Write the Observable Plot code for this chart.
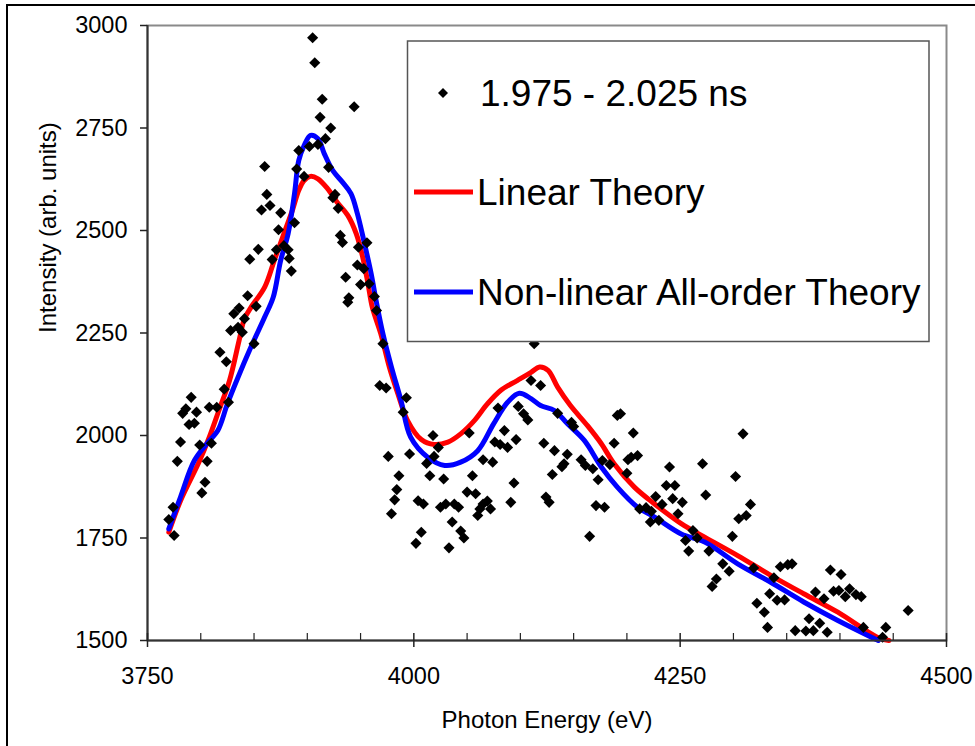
<!DOCTYPE html>
<html>
<head>
<meta charset="utf-8">
<script src="https://cdn.jsdelivr.net/npm/d3@7"></script>
<script src="https://cdn.jsdelivr.net/npm/@observablehq/plot@0.6"></script>
<style>
  html, body { margin: 0; padding: 0; background: #fff; }
  #wrap { position: relative; width: 975px; height: 746px; overflow: hidden; background: #fff;
          font-family: "Liberation Sans", Arial, sans-serif; }
  #chart { position: absolute; left: 0; top: 0; }
  #outer { position: absolute; left: 6px; top: 4px; width: 2000px; height: 2000px;
           border-left: 2px solid #000; border-top: 2px solid #000; pointer-events: none; }
  #legend { position: absolute; left: 0; top: 0; pointer-events: none; }
</style>
</head>
<body>
<div id="wrap">
  <div id="chart"></div>
  <div id="outer"></div>
</div>
<script>
// ---- Data ----
const seriesNames = ["1.975 - 2.025 ns", "Linear Theory", "Non-linear All-order Theory"];
const xTitle = "Photon Energy (eV)";
const yTitle = "Intensity (arb. units)";
const xTicks = [3750, 4000, 4250, 4500];
const xMinorTicks = [3800, 3850, 3900, 3950, 4050, 4100, 4150, 4200, 4300, 4350, 4400, 4450];
const yTicks = [1500, 1750, 2000, 2250, 2500, 2750, 3000];

// measured points: photon energy (eV)
const pointEnergy = [
  3905,3907,3914,3944,3912,3922,3917,3910,3902,3892,3860,3920,3890,3897,3862,3926,3924,3865,3857,3929,
  3875,3888,3873,3931,3933,3956,3948,3854,3878,3871,3882,3846,3867,3883,3947,3953,3885,3936,3950,3958,
  3844,3939,3938,3963,3852,3836,3831,3965,3841,3835,3828,3839,3850,3818,3824,3971,3822,3968,3974,3791,
  3826,3993,3808,3815,3786,3783,3796,3990,3789,3794,3781,3799,3810,3778,3806,3976,3996,3986,3804,3801,
  3984,3982,3774,3770,3979,3775,
  4113,4110,4119,4079,4098,4103,4107,4018,4052,4085,4023,4076,4081,4088,4096,4122,4132,4135,4148,4150,
  4019,4012,4065,4074,4144,4141,4139,4157,4161,4168,4015,4028,4055,4130,4173,4177,4184,4191,4194,4206,
  4188,4201,4204,4210,4200,4094,4050,4058,4004,4009,4025,4030,4038,4042,4065,4069,4072,4062,4060,4091,
  4124,4127,4171,4179,4036,4044,4047,4007,4002,4033,4165,4240,4237,4245,4227,4243,4212,4218,4223,4233,
  4222,4230,4248,
  4309,4271,4302,4252,4274,4316,4312,4305,4262,4266,4255,4258,4299,4277,4290,4296,4284,4280,4319,4338,
  4344,4351,4355,4334,4341,4348,4322,4329,4332,4391,4401,4377,4385,4394,4399,4405,4409,4415,4420,4371,
  4381,4358,4368,4375,4388,4422,4443,4440,4464
];
// measured points: intensity (arb. units)
const pointIntensity = [
  2970,2909,2820,2802,2776,2750,2724,2710,2705,2695,2656,2654,2650,2632,2588,2588,2580,2561,2550,2554,
  2543,2519,2502,2488,2471,2470,2459,2454,2463,2453,2453,2430,2429,2432,2416,2407,2401,2386,2368,2370,
  2341,2336,2325,2339,2315,2311,2297,2305,2285,2264,2256,2252,2224,2203,2180,2224,2113,2122,2116,2093,
  2081,2092,2069,2069,2065,2054,2057,2057,2027,2030,1984,1977,1981,1937,1937,1949,1955,1902,1886,1860,
  1868,1843,1825,1795,1809,1756,
  2224,2134,2122,2067,2071,2053,2038,2000,2006,2012,1971,1984,1978,1971,1990,1981,1963,2054,2032,2022,
  1949,1932,1941,1935,1954,1931,1924,1941,1927,1919,1902,1894,1902,1905,1892,1939,1929,2049,2053,2006,
  1981,1941,1947,1951,1908,1884,1862,1858,1841,1833,1825,1833,1833,1825,1833,1840,1821,1821,1805,1837,
  1850,1837,1829,1825,1789,1767,1750,1764,1737,1726,1754,1923,1878,1878,1851,1846,1821,1824,1815,1832,
  1789,1793,1809,
  2004,1931,1900,1837,1855,1832,1805,1797,1768,1750,1744,1718,1754,1718,1687,1669,1650,1632,1677,1653,
  1680,1685,1687,1614,1598,1599,1591,1569,1532,1672,1661,1618,1602,1620,1622,1607,1626,1612,1607,1553,
  1542,1524,1523,1524,1520,1532,1532,1508,1573
];

// Linear theory curve
const linearEnergy = [
  3770,3781,3799,3808,3817,3827,3836,3841,3847,3860,3869,3878,3886,3892,3897,3903,3910,3919,3928,3938,
  3946,3952,3957,3961,3969,3977,3985,3994,4007,4019,4032,4044,4057,4069,4082,4097,4110,4118,4126,4135,
  4147,4163,4176,4188,4207,4226,4251,4273,4304,4335,4366,4398,4435,4446
];
const linearIntensity = [
  1764,1841,1939,1996,2061,2134,2232,2285,2312,2362,2427,2492,2549,2598,2622,2632,2626,2602,2569,2537,
  2492,2435,2370,2313,2248,2167,2102,2037,1990,1978,1984,2004,2037,2077,2111,2134,2154,2167,2159,2118,
  2073,2024,1980,1931,1874,1833,1785,1752,1707,1659,1614,1569,1508,1500
];

// Non-linear all-order theory curve
const nonlinearEnergy = [
  3770,3781,3794,3807,3816,3825,3835,3847,3860,3868,3875,3882,3888,3892,3897,3903,3910,3916,3924,3933,
  3941,3947,3953,3960,3964,3971,3979,3988,3997,4013,4029,4044,4060,4075,4088,4099,4110,4119,4132,4144,
  4160,4176,4191,4210,4226,4251,4273,4304,4335,4366,4398,4436
];
const nonlinearIntensity = [
  1772,1850,1939,1984,2012,2077,2142,2215,2289,2337,2427,2492,2590,2671,2707,2732,2724,2687,2646,2618,
  2590,2541,2476,2394,2337,2248,2167,2085,1996,1947,1927,1935,1963,2029,2081,2103,2090,2073,2061,2029,
  1988,1923,1874,1825,1801,1760,1740,1687,1642,1594,1549,1500
];

// ---- Tables built from the arrays ----
const points = pointEnergy.map((e, i) => ({e, v: pointIntensity[i]}));
const linear = linearEnergy.map((e, i) => ({e, v: linearIntensity[i]}));
const nonlinear = nonlinearEnergy.map((e, i) => ({e, v: nonlinearIntensity[i]}));

const tickColor = "#222";
const chart = Plot.plot({
  width: 975,
  height: 746,
  marginLeft: 147,
  marginRight: 29,
  marginTop: 25,
  marginBottom: 106,
  x: {domain: [3750, 4500]},
  y: {domain: [1500, 3000]},
  style: {
    fontFamily: '"Liberation Sans", Arial, sans-serif',
    fontSize: "23.5px",
    color: "#000",
    background: "transparent",
    overflow: "visible"
  },
  marks: [
    Plot.frame({stroke: "#8a8a8a", strokeWidth: 2}),
    Plot.line(linear, {x: "e", y: "v", stroke: "#ff0000", strokeWidth: 5, curve: "catmull-rom"}),
    Plot.line(nonlinear, {x: "e", y: "v", stroke: "#0000ff", strokeWidth: 5, curve: "catmull-rom"}),
    Plot.dot(points, {x: "e", y: "v", symbol: "diamond2", r: 5, fill: "#000", stroke: "none"}),
    Plot.ruleX([3750], {stroke: "#333", strokeWidth: 2}),
    Plot.ruleY([1500], {stroke: "#333", strokeWidth: 2}),
    Plot.axisY({ticks: yTicks, tickSize: 7, tickPadding: 13, tickFormat: d => String(d), label: null, stroke: tickColor, strokeWidth: 1.5}),
    Plot.axisX({ticks: xTicks, tickSize: 7, tickPadding: 20, tickFormat: d => String(d), label: null, stroke: tickColor, strokeWidth: 1.5}),
    Plot.axisX({ticks: xTicks, tickSize: -7, tickFormat: () => "", label: null, stroke: tickColor, strokeWidth: 1.5}),
    Plot.axisX({ticks: xMinorTicks, tickSize: -7, tickFormat: () => "", label: null, stroke: tickColor, strokeWidth: 1.2}),
    Plot.text([xTitle], {text: d => d, frameAnchor: "bottom", dy: 87, lineAnchor: "bottom", fontSize: 24, fill: "#000"}),
    Plot.text([yTitle], {text: d => d, frameAnchor: "left", dx: -99, rotate: -90, fontSize: 24, fill: "#000"})
  ]
});
document.getElementById("chart").appendChild(chart);

// ---- Legend (inside the plot area, top right) ----
const lg = d3.select("#wrap").append("svg")
  .attr("id", "legend").attr("width", 975).attr("height", 746);
lg.append("rect").attr("x", 407.5).attr("y", 41).attr("width", 521.5).attr("height", 300.5)
  .attr("fill", "#fff").attr("stroke", "#555").attr("stroke-width", 1.5);
lg.append("path").attr("d", "M443,88L448,93L443,98L438,93Z").attr("fill", "#000");
lg.append("line").attr("x1", 414).attr("x2", 473).attr("y1", 192).attr("y2", 192)
  .attr("stroke", "#ff0000").attr("stroke-width", 5);
lg.append("line").attr("x1", 414).attr("x2", 473).attr("y1", 292).attr("y2", 292)
  .attr("stroke", "#0000ff").attr("stroke-width", 5);
const baselines = [106, 205, 305];
seriesNames.forEach((name, i) => {
  lg.append("text").attr("x", i === 0 ? 480 : 477).attr("y", baselines[i])
    .attr("font-family", '"Liberation Sans", Arial, sans-serif').attr("font-size", 37)
    .attr("fill", "#000").text(name);
});
</script>
</body>
</html>
